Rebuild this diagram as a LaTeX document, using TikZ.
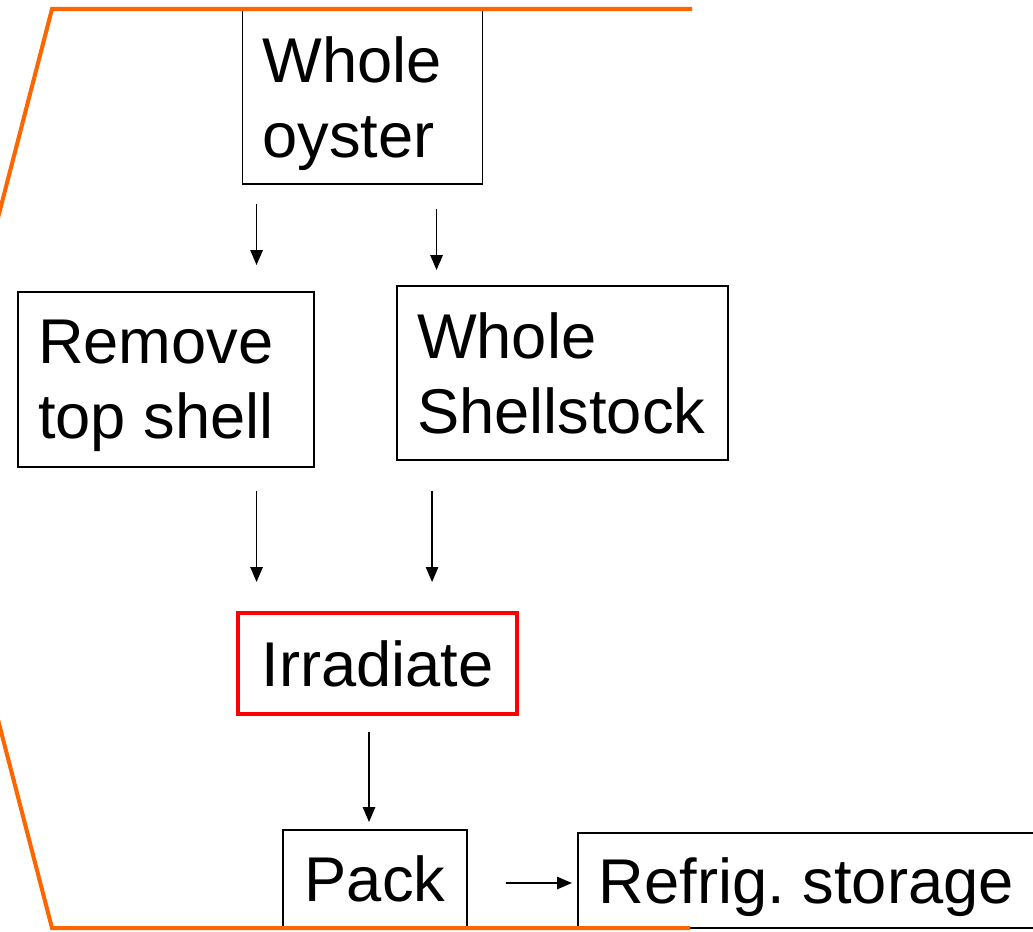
\documentclass[tikz,border=0pt]{standalone}
\usepackage{fontspec}
\setmainfont{Liberation Sans}
\usepackage{xcolor}
\usepackage{tikz}
\usetikzlibrary{arrows.meta,positioning,calc}

\definecolor{frameorange}{RGB}{255,102,0}

\begin{document}
\begin{tikzpicture}[
    x=0.02cm, y=-0.02cm,
    box/.style={draw, line width=1.1pt, inner xsep=0.4cm, inner ysep=0pt, align=flush left, text depth=42.5pt,
        font=\fontsize{36}{42.5}\selectfont\frenchspacing, execute at begin node={\spaceskip=0pt\xspaceskip=0pt\relax}},
    hot/.style={draw=red, line width=2.3pt, inner sep=0pt, align=center, font=\fontsize{36}{42.5}\selectfont},
    arr/.style={-{Triangle[length=8.5pt, width=7pt]}, line width=1pt},
    frame/.style={draw=frameorange, line width=2.3pt, line join=miter},
]
\useasboundingbox (0,0) rectangle (1033,931);

% boxes
\node[box, text width=4.0cm, minimum height=3.48cm] (oyster) at (362.5, 97) {Whole\\oyster};
\node[box, text width=5.12cm, minimum height=3.5cm] (remove) at (166, 379.5) {Remove\\top shell};
\node[box, text width=5.82cm, minimum height=3.48cm] (shell) at (562.5, 373) {Whole\\Shellstock};
\node[hot, minimum width=5.58cm, minimum height=2.02cm] (irr) at (377.5, 663.5) {Irradiate};
\node[box, align=center, text depth=, inner xsep=0pt, minimum width=3.68cm, minimum height=1.96cm] (pack) at (375, 879) {Pack};
\node[box, anchor=west, inner xsep=0.42cm, text width=9cm, text depth=0pt, minimum height=1.9cm] (refrig) at (577, 880.5) {Refrig. storage};

% orange frame
\draw[frame] (692,9) -- (52,9) -- (-67,469) -- (52,928) -- (690,928);

% arrows
\draw[arr] ($(oyster.south west)+(15,19)$) -- ($(oyster.south west |- remove.north)+(15,-26)$);
\draw[arr] ($(oyster.south west)+(195,24)$) -- ($(oyster.south west |- shell.north)+(195,-15)$);
\draw[arr] ($(oyster.south west |- remove.south)+(15,23)$) -- ($(oyster.south west |- irr.north)+(15,-29)$);
\draw[arr] ($(shell.south west)+(36,30)$) -- ($(shell.south west |- irr.north)+(36,-29)$);
\draw[arr] ($(irr.south west)+(133,16)$) -- ($(irr.south west |- pack.north)+(133,-7)$);
\draw[arr] ($(pack.east)+(38,4)$) -- ($(refrig.west)+(-5,2.5)$);

\end{tikzpicture}
\end{document}
